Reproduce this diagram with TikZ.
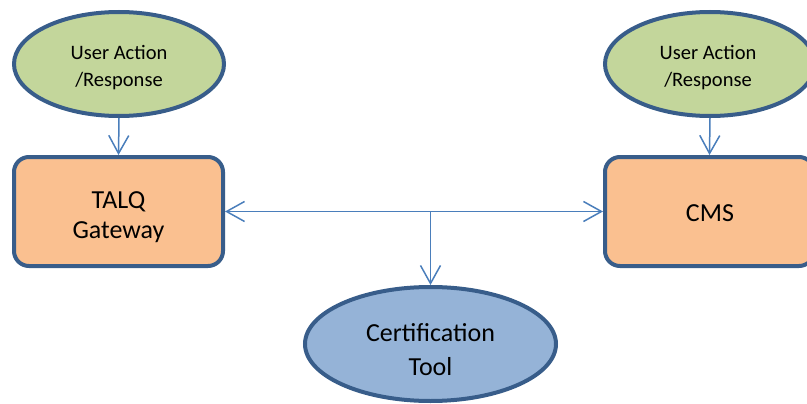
\documentclass[tikz,border=0pt]{standalone}
\usepackage{fontspec}
\setmainfont{Carlito}
\usetikzlibrary{shapes.geometric,arrows.meta}
\definecolor{bordc}{RGB}{56,93,138}
\definecolor{arrc}{RGB}{74,126,187}
\definecolor{greenf}{RGB}{195,214,155}
\definecolor{orangef}{RGB}{250,192,144}
\definecolor{bluef}{RGB}{149,179,215}
\tikzset{
  userell/.style={ellipse, draw=bordc, line width=4pt, fill=greenf, minimum width=210pt, minimum height=104pt, inner sep=0pt},
  sysbox/.style={rectangle, rounded corners=15pt, draw=bordc, line width=4pt, fill=orangef, minimum width=209pt, minimum height=109pt, inner sep=0pt},
  toolell/.style={ellipse, draw=bordc, line width=4pt, fill=bluef, minimum width=251pt, minimum height=114pt, inner sep=0pt},
  smalltxt/.style={align=center, inner sep=0pt, font=\fontsize{20.5}{27}\selectfont},
  bigtxt/.style={align=center, inner sep=0pt, font=\fontsize{26}{30}\selectfont},
  tooltxt/.style={align=center, inner sep=0pt, font=\fontsize{26}{34}\selectfont},
  arr/.style={draw=arrc, line width=1.5pt, -{Straight Barb[length=18pt,width=20pt,line width=1.5pt]}},
  darr/.style={draw=arrc, line width=1.5pt, {Straight Barb[length=18pt,width=20pt,line width=1.5pt]}-{Straight Barb[length=18pt,width=20pt,line width=1.5pt]}}
}
\begin{document}
\begin{tikzpicture}[x=1pt,y=-1pt]
\useasboundingbox (0,0) rectangle (807,404);
\begin{scope}
\clip (0,0) rectangle (807,404);
\node[userell] (u1) at (119,64) {};
\node[userell] (u2) at (710,64) {};
\node[sysbox] (tg) at (118.5,211.5) {};
\node[sysbox] (cms) at (709.5,211.5) {};
\node[toolell] (ct) at (430.5,344) {};
\node[smalltxt] (u1t) at (119,68) {User Action\\/Response};
\node[smalltxt] (u2t) at (708,68) {User Action\\/Response};
\node[bigtxt] (tgt) at (118.5,217) {TALQ\\Gateway};
\node[bigtxt] (cmst) at (710,213) {CMS};
\node[tooltxt] (ctt) at (430.5,350) {Certification\\Tool};
\draw[arr] (u1.south) -- (tg.north);
\draw[arr] (u2.south) -- (cms.north);
\draw[darr] (tg.east) -- (cms.west);
\draw[arr] (tg.east -| ct.north) -- (ct.north);
\end{scope}
\end{tikzpicture}
\end{document}
